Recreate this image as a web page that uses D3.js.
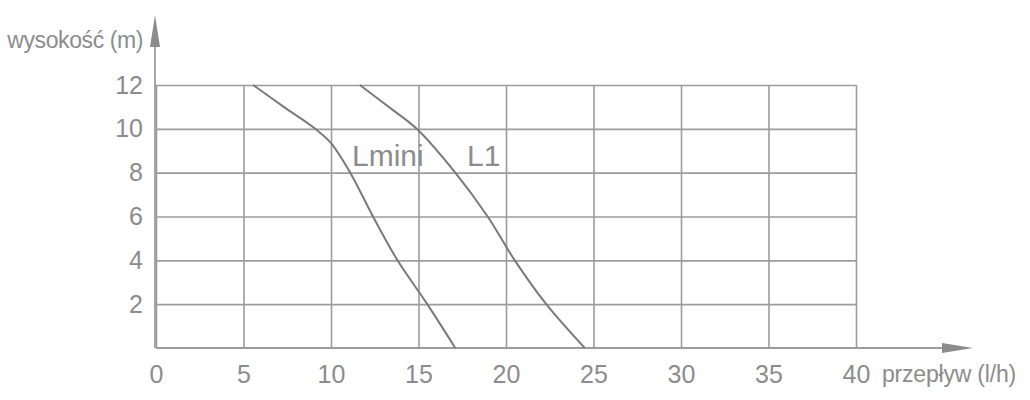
<!DOCTYPE html>
<html>
<head>
<meta charset="utf-8">
<script src="https://cdn.jsdelivr.net/npm/d3@7"></script>
<style>
	body { margin: 0; background: #fff; }
	svg { display: block; }
	text { font-family: "Liberation Sans", Arial, sans-serif; fill: #8c8c8c; }
</style>
</head>
<body>
<svg width="1030" height="400"></svg>
<script>
const xTicks = [0, 5, 10, 15, 20, 25, 30, 35, 40];
const yTicks = [2, 4, 6, 8, 10, 12];
const lminiX = [5.55, 7.3, 9.1, 10, 11.1, 12.4, 13.8, 15.5, 17.1];
const lminiY = [12, 11, 10, 9.35, 8, 6, 4, 2, 0];
const l1X = [11.65, 13.3, 14.9, 17.1, 18.95, 20.5, 22.3, 24.5];
const l1Y = [12, 11, 10, 8, 6, 4, 2, 0];
const seriesNames = ["Lmini", "L1"];
const xTitle = "przepływ (l/h)";
const yTitle = "wysokość (m)";

const svg = d3.select("svg");
const plotLeft = 156, plotRight = 856, plotTop = 85, plotBottom = 348;
const gridColor = "#9c9c9c";

const xScale = d3.scaleLinear().domain([0, 40]).range([plotLeft, plotRight]);
const yScale = d3.scaleLinear().domain([0, 12]).range([plotBottom, plotTop]);

// x grid + labels
const gx = svg.append("g")
	.attr("transform", `translate(0,${plotBottom})`)
	.call(d3.axisBottom(xScale).tickValues(xTicks).tickSize(-(plotBottom - plotTop)).tickPadding(17));
gx.select(".domain").remove();
gx.selectAll("line").attr("stroke", gridColor).attr("stroke-width", 1.6);
gx.selectAll("text").attr("fill", "#8c8c8c").style("font-size", "25px");

// y grid + labels
const gy = svg.append("g")
	.attr("transform", `translate(${plotLeft},0)`)
	.call(d3.axisLeft(yScale).tickValues(yTicks).tickSize(-(plotRight - plotLeft)).tickPadding(13));
gy.select(".domain").remove();
gy.selectAll("line").attr("stroke", gridColor).attr("stroke-width", 1.6);
gy.selectAll("text").attr("fill", "#8c8c8c").style("font-size", "25px");

// axis lines with arrows
svg.append("line")
	.attr("x1", plotLeft).attr("y1", plotBottom).attr("x2", 950).attr("y2", plotBottom)
	.attr("stroke", gridColor).attr("stroke-width", 1.8);
svg.append("path")
	.attr("d", `M942,${plotBottom - 5}L973,${plotBottom}L942,${plotBottom + 5}Z`)
	.attr("fill", "#8c8c8c");
svg.append("line")
	.attr("x1", plotLeft - 1).attr("y1", plotBottom).attr("x2", plotLeft - 1).attr("y2", 40)
	.attr("stroke", gridColor).attr("stroke-width", 1.8);
svg.append("path")
	.attr("d", `M${plotLeft - 6},47L${plotLeft - 1},15L${plotLeft + 4},47Z`)
	.attr("fill", "#8c8c8c");

// curves
const line = d3.line()
	.x(d => xScale(d[0]))
	.y(d => yScale(d[1]))
	.curve(d3.curveCatmullRom.alpha(0.5));

[[lminiX, lminiY], [l1X, l1Y]].forEach(s => {
	svg.append("path")
		.datum(s[0].map((x, i) => [x, s[1][i]]))
		.attr("d", line)
		.attr("fill", "none")
		.attr("stroke", "#7a7a7a")
		.attr("stroke-width", 2);
});

// series labels
svg.append("text").attr("x", 352).attr("y", 166).style("font-size", "30px").text(seriesNames[0]);
svg.append("text").attr("x", 467).attr("y", 166).style("font-size", "30px").text(seriesNames[1]);

// axis titles
svg.append("text").attr("x", 143).attr("y", 48).attr("text-anchor", "end")
	.style("font-size", "23px").style("letter-spacing", "-0.4px").text(yTitle);
svg.append("text").attr("x", 882).attr("y", 382)
	.style("font-size", "23px").style("letter-spacing", "-0.2px").text(xTitle);
</script>
</body>
</html>
